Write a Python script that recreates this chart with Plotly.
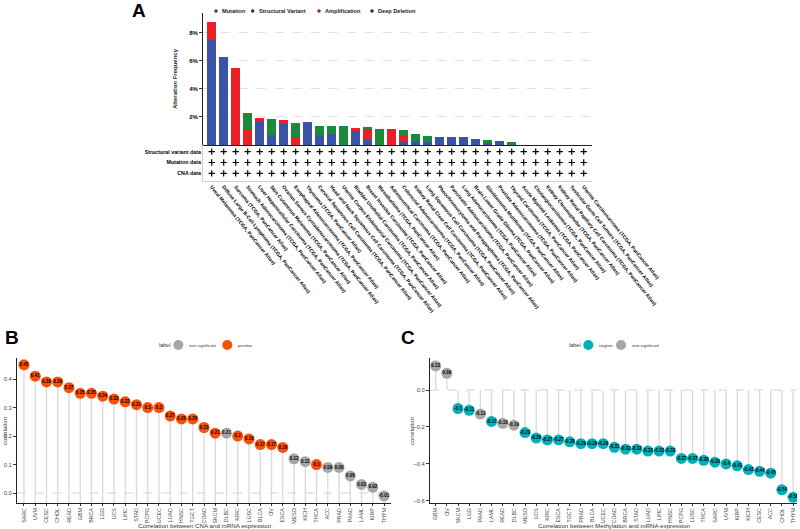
import plotly.graph_objects as go

W, H = 800, 529

# ---------------- Panel A data ----------------
cancer_types = [
    "Uveal Melanoma", "Diffuse Large B-Cell Lymphoma", "Sarcoma", "Stomach Adenocarcinoma",
    "Liver Hepatocellular Carcinoma", "Skin Cutaneous Melanoma", "Ovarian Serous Cystadenocarcinoma",
    "Esophageal Adenocarcinoma", "Thymoma", "Cervical Squamous Cell Carcinoma",
    "Head and Neck Squamous Cell Carcinoma", "Uterine Corpus Endometrial Carcinoma",
    "Bladder Urothelial Carcinoma", "Breast Invasive Carcinoma", "Mesothelioma",
    "Adrenocortical Carcinoma", "Colorectal Adenocarcinoma", "Kidney Renal Clear Cell Carcinoma",
    "Lung Squamous Cell Carcinoma", "Pheochromocytoma and Paraganglioma", "Pancreatic Adenocarcinoma",
    "Lung Adenocarcinoma", "Brain Lower Grade Glioma", "Glioblastoma Multiforme",
    "Prostate Adenocarcinoma", "Thyroid Carcinoma", "Acute Myeloid Leukemia", "Cholangiocarcinoma",
    "Kidney Chromophobe", "Kidney Renal Papillary Cell Carcinoma", "Testicular Germ Cell Tumors",
    "Uterine Carcinosarcoma",
]
study_suffix = " (TCGA, PanCancer Atlas)"
deep_deletion = [7.50, 6.26, 0, 0, 1.64, 0.69, 1.52, 0, 1.64, 0.69, 0.79, 0, 1.00, 0.33, 0, 0,
                 0.21, 0.21, 0.21, 0.60, 0.57, 0.55, 0.40, 0.12, 0.26, 0, 0, 0, 0, 0, 0, 0]
amplification = [1.26, 0, 5.50, 1.17, 0.29, 0, 0.24, 0.57, 0, 0, 0, 0, 0.24, 0.74, 0, 1.12,
                 0.48, 0, 0, 0, 0, 0, 0, 0, 0, 0, 0, 0, 0, 0, 0, 0]
structural_variant = [0, 0, 0, 0, 0, 0, 0, 0, 0, 0, 0, 0, 0, 0.07, 0, 0,
                      0, 0, 0, 0, 0, 0, 0, 0, 0, 0, 0, 0, 0, 0, 0, 0]
mutation = [0, 0, 0, 1.14, 0, 1.17, 0, 1.03, 0, 0.69, 0.59, 1.36, 0, 0.12, 1.17, 0,
            0.36, 0.60, 0.43, 0, 0, 0, 0, 0.24, 0, 0.24, 0, 0, 0, 0, 0, 0]
data_rows = ["CNA data", "Mutation data", "Structural variant data"]
freq_ticks = [2, 4, 6, 8]

# ---------------- Panel B data ----------------
cna_types = ["SARC", "UVM", "CESC", "CHOL", "READ", "GBM", "BRCA", "LGG", "UCS", "LIHC", "STAD",
             "PCPG", "UCEC", "LUAD", "HNSC", "TGCT", "COAD", "SKCM", "DLBC", "KIRC", "LUSC", "BLCA",
             "OV", "ESCA", "MESO", "KICH", "THCA", "ACC", "PRAD", "PAAD", "LAML", "KIRP", "THYM"]
cna_corr = [0.45, 0.41, 0.39, 0.39, 0.37, 0.35, 0.35, 0.34, 0.33, 0.32, 0.31,
            0.30, 0.30, 0.27, 0.26, 0.26, 0.23, 0.21, 0.21, 0.20, 0.19, 0.17,
            0.17, 0.16, 0.12, 0.11, 0.10, 0.09, 0.09, 0.06, 0.03, 0.02, -0.01]
cna_label = ["positive"] * 18 + ["non-significant"] + ["positive"] * 5 + \
            ["non-significant", "non-significant", "positive"] + ["non-significant"] * 6

# ---------------- Panel C data ----------------
meth_types = ["GBM", "OV", "SKCM", "LGG", "PAAD", "LAML", "READ", "DLBC", "MESO", "UCS", "KIRC",
              "ESCA", "TGCT", "PRAD", "BLCA", "UCEC", "COAD", "BRCA", "STAD", "LUAD", "LIHC", "HNSC",
              "PCPG", "LUSC", "THCA", "SARC", "UVM", "KIRP", "KICH", "CESC", "ACC", "CHOL", "THYM"]
meth_corr = [0.13, 0.09, -0.10, -0.11, -0.13, -0.17, -0.18, -0.19, -0.23, -0.26, -0.27,
             -0.27, -0.28, -0.29, -0.29, -0.29, -0.31, -0.32, -0.32, -0.33, -0.33, -0.33,
             -0.37, -0.37, -0.38, -0.39, -0.40, -0.41, -0.43, -0.44, -0.45, -0.54, -0.58]
meth_label = ["non-significant", "non-significant", "negtive", "negtive", "non-significant",
              "negtive", "non-significant", "non-significant"] + ["negtive"] * 25

# ---------------- styles ----------------
C_DD, C_AMP, C_SV, C_MUT = "#3b53a4", "#ec1f26", "#7b2fa8", "#1c8a3d"
C_POS, C_NEG, C_NS = "#FC4E07", "#00AFBB", "#A6A6A6"
SEG = "#D9D9D9"
FONT = "Liberation Sans, Arial, sans-serif"


def px(x):
    return x / W


def py(y):
    return 1 - y / H


fig = go.Figure()

# ---------- Panel A bars ----------
for name, vals, col in [("Deep Deletion", deep_deletion, C_DD), ("Amplification", amplification, C_AMP),
                        ("Structural Variant", structural_variant, C_SV), ("Mutation", mutation, C_MUT)]:
    fig.add_trace(go.Bar(x=cancer_types, y=vals, name=name, marker=dict(color=col, line=dict(width=0)),
                         xaxis="x", yaxis="y", showlegend=False))

# crosses for data availability
cx, cy = [], []
for r in data_rows:
    for c in cancer_types:
        cx.append(c)
        cy.append(r)
fig.add_trace(go.Scatter(x=cx, y=cy, mode="markers", xaxis="x2", yaxis="y2", showlegend=False,
                         marker=dict(symbol="cross-thin", size=4.5, color="black",
                                     line=dict(width=1.2, color="black"))))


# ---------- Lollipop panels ----------
def lollipop(cats, vals, labels, cmap, xa, ya, base):
    sx, sy = [], []
    for c, v in zip(cats, vals):
        sx += [c, c, None]
        sy += [base, v, None]
    fig.add_trace(go.Scatter(x=sx, y=sy, mode="lines", line=dict(color=SEG, width=1.3),
                             xaxis=xa, yaxis=ya, showlegend=False, hoverinfo="skip"))
    fig.add_trace(go.Scatter(x=cats, y=vals, mode="markers+text", xaxis=xa, yaxis=ya, showlegend=False,
                             marker=dict(size=11, color=[cmap[l] for l in labels], line=dict(width=0)),
                             text=["{:g}".format(v) for v in vals], textposition="middle center",
                             textfont=dict(size=4.5, color="black", family=FONT, weight="bold")))


b_range = [-0.035, 0.474]
c_range = [-0.611, 0.173]
lollipop(cna_types, cna_corr, cna_label, {"positive": C_POS, "non-significant": C_NS}, "x3", "y3", b_range[0])
lollipop(meth_types, meth_corr, meth_label, {"negtive": C_NEG, "non-significant": C_NS}, "x4", "y4", 0)

tick_font_bold = dict(size=6, color="black", family=FONT, weight="bold")
tick_font = dict(size=5.8, color="#444444", family=FONT)
cat_font = dict(size=5.3, color="#444444", family=FONT)

fig.update_layout(
    width=W, height=H, margin=dict(l=0, r=0, t=0, b=0),
    paper_bgcolor="white", plot_bgcolor="white",
    font=dict(family=FONT), barmode="stack", bargap=0.22,
    xaxis=dict(domain=[px(203), px(592)], range=[-0.725, 31.69], type="category",
               categoryorder="array", categoryarray=cancer_types, showticklabels=False,
               ticks="", showline=True, linecolor="#222222", linewidth=1, anchor="y",
               showgrid=False, zeroline=False, automargin=False),
    yaxis=dict(domain=[py(145), py(13)], range=[0, 9.4], tickvals=freq_ticks,
               ticktext=[f"{t}%" for t in freq_ticks], ticks="outside", ticklen=3,
               tickcolor="#333333", tickfont=tick_font_bold, showline=True, linecolor="#222222",
               linewidth=1, showgrid=True, gridcolor="#E3E3E3", griddash="dash", gridwidth=0.8,
               zeroline=False, anchor="x", automargin=False),
    xaxis2=dict(domain=[px(203), px(592)], range=[-0.725, 31.69], type="category",
                categoryorder="array", categoryarray=cancer_types,
                tickvals=cancer_types, ticktext=[c + study_suffix for c in cancer_types],
                tickangle=51, ticks="", tickfont=dict(size=5, color="black", family=FONT, weight="bold"),
                showline=True, linecolor="#D0D0D0", linewidth=1, showgrid=False, zeroline=False,
                anchor="y2", automargin=False),
    yaxis2=dict(domain=[py(181), py(145)], range=[-0.71, 2.62], type="category",
                categoryorder="array", categoryarray=data_rows, ticks="",
                tickfont=dict(size=5.3, color="black", family=FONT, weight="bold"),
                showline=True, linecolor="#D0D0D0", linewidth=1, showgrid=False, zeroline=False,
                anchor="x2", automargin=False),
    xaxis3=dict(domain=[px(17), px(391)], range=[-0.62, 32.62], type="category",
                categoryorder="array", categoryarray=cna_types, tickangle=-90, ticks="outside",
                ticklen=2, tickcolor="#333333", tickfont=cat_font, showline=True, linecolor="#222222",
                linewidth=1, showgrid=False, zeroline=False, anchor="y3", automargin=False),
    yaxis3=dict(domain=[py(503), py(358)], range=b_range, tickvals=[0, 0.1, 0.2, 0.3, 0.4],
                tickformat=".1f", ticks="outside", ticklen=3, tickcolor="#333333", tickfont=tick_font,
                showline=True, linecolor="#222222", linewidth=1, showgrid=False, zeroline=False,
                anchor="x3", automargin=False),
    xaxis4=dict(domain=[px(430), px(797)], range=[-0.51, 32.35], type="category",
                categoryorder="array", categoryarray=meth_types, tickangle=-90, ticks="outside",
                ticklen=2, tickcolor="#333333", tickfont=cat_font, showline=True, linecolor="#222222",
                linewidth=1, showgrid=False, zeroline=False, anchor="y4", automargin=False),
    yaxis4=dict(domain=[py(503), py(358)], range=c_range, tickvals=[0, -0.2, -0.4, -0.6],
                tickformat=".1f", ticks="outside", ticklen=3, tickcolor="#333333", tickfont=tick_font,
                showline=True, linecolor="#222222", linewidth=1, showgrid=False, zeroline=False,
                anchor="x4", automargin=False),
)

shapes = []
# dashed zero lines
for xa, ya in [("x3", "y3"), ("x4", "y4")]:
    shapes.append(dict(type="line", xref=f"{xa} domain", yref=ya, x0=0, x1=1, y0=0, y1=0,
                       line=dict(color="#D3D3D3", width=1, dash="dash"), layer="below"))

annotations = []


def ann(text, x, y, size, color="black", bold=False, angle=0, xanchor="center"):
    annotations.append(dict(text=f"<b>{text}</b>" if bold else text, x=px(x), y=py(y), xref="paper",
                            yref="paper", showarrow=False, textangle=angle, xanchor=xanchor,
                            yanchor="middle", font=dict(size=size, color=color, family=FONT)))


def dot(x, y, r, color):
    shapes.append(dict(type="circle", xref="paper", yref="paper", x0=px(x - r), x1=px(x + r),
                       y0=py(y + r), y1=py(y - r), fillcolor=color, line=dict(width=0)))


# panel letters
ann("A", 139, 10.5, 19, bold=True)
ann("B", 12, 337, 19, bold=True)
ann("C", 408, 337, 19, bold=True)

# axis titles
ann("Alteration Frequency", 175, 79, 6, color="#222222", bold=True, angle=-90)
ann("correlation", 5, 431, 6, color="#333333", angle=-90)
ann("correlation", 412, 431, 6, color="#333333", angle=-90)
ann("Correlation between CNA and mRNA expression", 205, 525, 6.2, color="#333333")
ann("Correlation between Methylation and mRNA expression", 614, 525, 6.2, color="#333333")

# legend A
legA = [("Mutation", 216, "#235c36"), ("Structural Variant", 252.7, "#4a2a7a"),
        ("Amplification", 319, "#a5202a"), ("Deep Deletion", 372, "#24306a")]
for name, x, col in legA:
    dot(x, 11, 1.8, col)
    ann(name, x + 4, 11, 5.6, color="#222222", bold=True, xanchor="left")

# legend B
ann("label", 157, 345, 5.5, color="#333333", xanchor="left")
dot(178.3, 345, 5, C_NS)
ann("non-significant", 186.5, 345, 4.2, color="#333333", xanchor="left")
dot(227.3, 345, 5, C_POS)
ann("positive", 236, 345, 4.2, color="#333333", xanchor="left")

# legend C
ann("label", 566.5, 345, 5.5, color="#333333", xanchor="left")
dot(588.3, 345, 5, C_NEG)
ann("negtive", 596.7, 345, 4.2, color="#333333", xanchor="left")
dot(621, 345, 5, C_NS)
ann("non-significant", 630, 345, 4.2, color="#333333", xanchor="left")

fig.update_layout(shapes=shapes, annotations=annotations)
fig.write_html("out.html", config={"displayModeBar": False},
               post_script="document.body.style.margin='0';document.body.style.overflow='hidden';")
